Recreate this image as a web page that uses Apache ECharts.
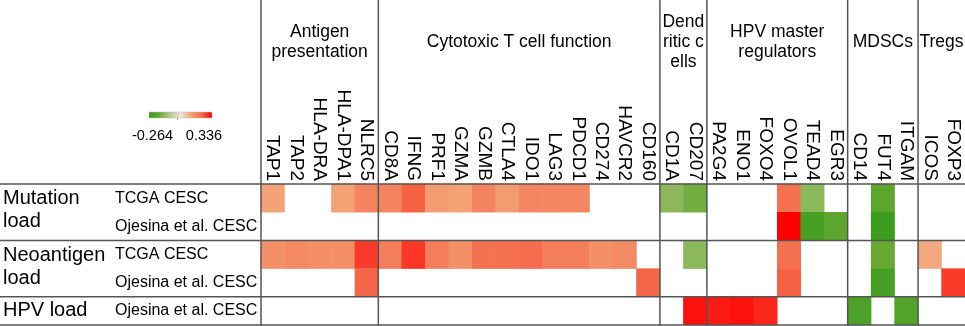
<!DOCTYPE html>
<html>
<head>
  <meta charset="utf-8">
</head>
<body style="margin: 0; background: #fff">
  <div id="container" style="width: 965px; height: 326px"></div>

  <script type="text/javascript" src="https://cdn.jsdelivr.net/npm/echarts@6/dist/echarts.min.js"></script>
  <script type="text/javascript">
    // genes (columns) and their groups
    const genes = ['TAP1', 'TAP2', 'HLA-DRA', 'HLA-DPA1', 'NLRC5',
      'CD8A', 'IFNG', 'PRF1', 'GZMA', 'GZMB', 'CTLA4', 'IDO1', 'LAG3', 'PDCD1', 'CD274', 'HAVCR2', 'CD160',
      'CD1A', 'CD207',
      'PA2G4', 'ENO1', 'FOXO4', 'OVOL1', 'TEAD4', 'EGR3',
      'CD14', 'FUT4', 'ITGAM',
      'ICOS', 'FOXP3'];
    const groupNames = ['Antigen\npresentation', 'Cytotoxic T cell function', 'Dend\nritic c\nells',
      'HPV master\nregulators', 'MDSCs', 'Tregs'];
    const groupSizes = [5, 12, 2, 6, 3, 2];

    // rows
    const rowLabels = ['TCGA CESC', 'Ojesina et al. CESC', 'TCGA CESC', 'Ojesina et al. CESC', 'Ojesina et al. CESC'];
    const rowGroupNames = ['Mutation\nload', 'Neoantigen\nload', 'HPV load'];
    const rowGroupSizes = [2, 2, 1];

    // correlation values per row (null = not significant, blank)
    const mutTcga = [0.14, null, null, 0.14, 0.19, 0.19, 0.245, 0.15, 0.14, 0.19, 0.15, 0.185, 0.185, 0.185, null, null, null,
      -0.12, -0.15, null, null, null, 0.22, -0.12, null, null, -0.19, null, null, null];
    const mutOjesina = [null, null, null, null, null, null, null, null, null, null, null, null, null, null, null, null, null,
      null, null, null, null, null, 0.336, -0.23, -0.19, null, -0.25, null, null, null];
    const neoTcga = [0.17, 0.18, 0.17, 0.17, 0.28, 0.2, 0.285, 0.2, 0.17, 0.22, 0.22, 0.23, 0.2, 0.2, 0.17, 0.18, null,
      null, -0.12, null, null, null, 0.22, null, null, null, -0.17, null, 0.13, null];
    const neoOjesina = [null, null, null, null, 0.24, null, null, null, null, null, null, null, null, null, null, null, 0.24,
      null, null, null, null, null, 0.245, null, null, null, -0.23, null, null, 0.28];
    const hpvOjesina = [null, null, null, null, null, null, null, null, null, null, null, null, null, null, null, null, null,
      null, 0.32, 0.31, 0.32, 0.30, null, null, null, -0.22, null, -0.21, null, null];
    const rows = [mutTcga, mutOjesina, neoTcga, neoOjesina, hpvOjesina];

    const minVal = -0.264, maxVal = 0.336;
    const colors = ['#359a1a', '#6aaa35', '#b4c98a', '#ece4d6', '#f3a478', '#f5694a', '#ff0000'];

    const data = [];
    rows.forEach((r, y) => r.forEach((v, x) => { if (v !== null) data.push([x, y, v]); }));

    // layout
    const gridLeft = 261, gridTop = 184, gridW = 704, gridH = 141;
    const cellW = gridW / genes.length, cellH = gridH / rowLabels.length;
    const font = 'Liberation Sans, Arial, sans-serif';
    const lineColor = '#555';

    const graphics = [];
    // vertical group separators + group titles
    let start = 0;
    groupSizes.forEach((n, i) => {
      const x0 = gridLeft + start * cellW;
      graphics.push({ type: 'line', shape: { x1: x0, y1: 0, x2: x0, y2: 326 },
        style: { stroke: lineColor, lineWidth: 1.5 }, z: 10 });
      graphics.push({ type: 'text', x: x0 + n * cellW / 2, y: 42,
        style: { text: groupNames[i], font: '17.5px ' + font, fill: '#000', textAlign: 'center',
          textVerticalAlign: 'middle', lineHeight: 20 } });
      start += n;
    });
    // horizontal separators + row group labels
    graphics.push({ type: 'line', shape: { x1: 0, y1: gridTop, x2: 965, y2: gridTop },
      style: { stroke: lineColor, lineWidth: 1.5 }, z: 10 });
    let rs = 0;
    rowGroupSizes.forEach((n, i) => {
      const y0 = gridTop + rs * cellH, y1 = y0 + n * cellH;
      graphics.push({ type: 'line', shape: { x1: 0, y1: y1, x2: 965, y2: y1 },
        style: { stroke: lineColor, lineWidth: 1.5 }, z: 10 });
      graphics.push({ type: 'text', x: 3, y: (y0 + y1) / 2 - (n > 1 ? 2 : 0),
        style: { text: rowGroupNames[i], font: '20px ' + font, fill: '#000', textAlign: 'left',
          textVerticalAlign: 'middle', lineHeight: 23 } });
      rs += n;
    });
    // colour legend
    graphics.push({ type: 'rect', shape: { x: 149, y: 112, width: 63, height: 6 },
      style: { fill: new echarts.graphic.LinearGradient(0, 0, 1, 0,
        colors.map((c, i) => ({ offset: i / (colors.length - 1), color: c }))),
        stroke: '#bbb', lineWidth: 0.5 } });
    graphics.push({ type: 'rect', shape: { x: 177, y: 118.5, width: 1, height: 1 }, style: { fill: '#444' } });
    graphics.push({ type: 'text', x: 152.5, y: 136, style: { text: minVal.toFixed(3), font: '14.5px ' + font,
      fill: '#000', textAlign: 'center', textVerticalAlign: 'middle' } });
    graphics.push({ type: 'text', x: 204, y: 136, style: { text: maxVal.toFixed(3), font: '14.5px ' + font,
      fill: '#000', textAlign: 'center', textVerticalAlign: 'middle' } });

    var myChart = echarts.init(document.getElementById('container'));
    var option = {
      animation: false,
      grid: { left: gridLeft, top: gridTop, width: gridW, height: gridH },
      xAxis: {
        type: 'category', position: 'top', data: genes,
        axisLine: { show: false }, axisTick: { show: false }, splitLine: { show: false },
        axisLabel: { interval: 0, rotate: 90, margin: 3, fontSize: 19, fontFamily: font, color: '#000' }
      },
      yAxis: {
        type: 'category', inverse: true, data: rowLabels,
        axisLine: { show: false }, axisTick: { show: false }, splitLine: { show: false },
        axisLabel: { interval: 0, align: 'left', margin: gridLeft - 115, fontSize: 16, fontFamily: font, color: '#000' }
      },
      visualMap: {
        show: false, type: 'continuous', min: minVal, max: maxVal, dimension: 2,
        inRange: { color: colors }
      },
      series: [{
        type: 'heatmap', data: data,
        itemStyle: { borderWidth: 0 },
        emphasis: { disabled: true }
      }],
      graphic: graphics
    };
    myChart.setOption(option);
    window.addEventListener('resize', myChart.resize);
  </script>
</body>
</html>
